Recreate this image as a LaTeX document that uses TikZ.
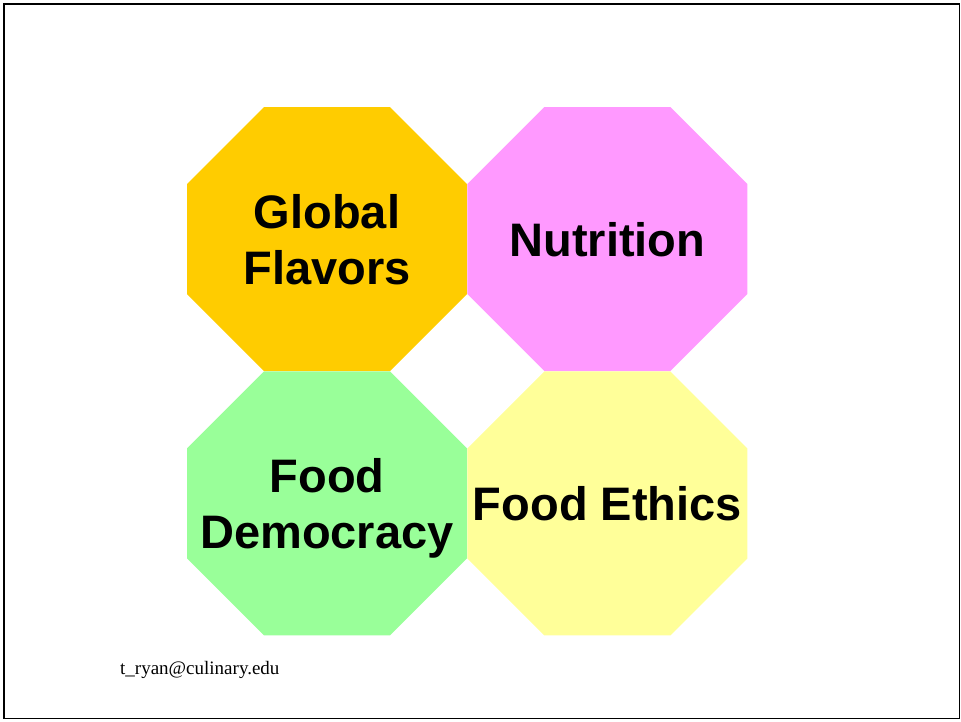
\documentclass[tikz,border=0pt]{standalone}
\usepackage{fontspec}
\setmainfont{Liberation Sans}
\newfontfamily\mailfont{Liberation Serif}
\usetikzlibrary{positioning}

\definecolor{flavorcol}{HTML}{FFCC00}
\definecolor{nutricol}{HTML}{FF99FF}
\definecolor{democol}{HTML}{99FF99}
\definecolor{ethicscol}{HTML}{FFFF99}

\tikzset{
  octo/.style={minimum width=280pt, minimum height=264pt, inner sep=0pt,
    align=center, text depth=0pt, font=\fontsize{47}{56}\selectfont\bfseries,
    path picture={\fill[#1]
      ([xshift=77pt]path picture bounding box.north west)
      -- ([xshift=-77pt]path picture bounding box.north east)
      -- ([yshift=-77pt]path picture bounding box.north east)
      -- ([yshift=77pt]path picture bounding box.south east)
      -- ([xshift=-77pt]path picture bounding box.south east)
      -- ([xshift=77pt]path picture bounding box.south west)
      -- ([yshift=77pt]path picture bounding box.south west)
      -- ([yshift=-77pt]path picture bounding box.north west) -- cycle;}},
  node distance=0pt
}

\begin{document}
\begin{tikzpicture}[x=1pt,y=-1pt]
      \useasboundingbox (0,0) rectangle (961,721);
      \draw[line width=1.5pt] (4,4) rectangle (959.5,718.5);
      % top row
      \node [octo=flavorcol] (flavors) at (327,239) {Global\\Flavors};
      \node [octo=nutricol,right=of flavors] (nutrition) {Nutrition};
      % bottom row
      \node [octo=democol,below=of flavors] (democracy) {Food\\Democracy};
      \node [octo=ethicscol,below=of nutrition] (ethics) {Food Ethics};
      % footer
      \node [anchor=base west,inner sep=0pt,font=\mailfont\fontsize{19}{22}\selectfont] (mail) at (120,674) {t\_ryan@culinary.edu};
    \end{tikzpicture}
\end{document}
